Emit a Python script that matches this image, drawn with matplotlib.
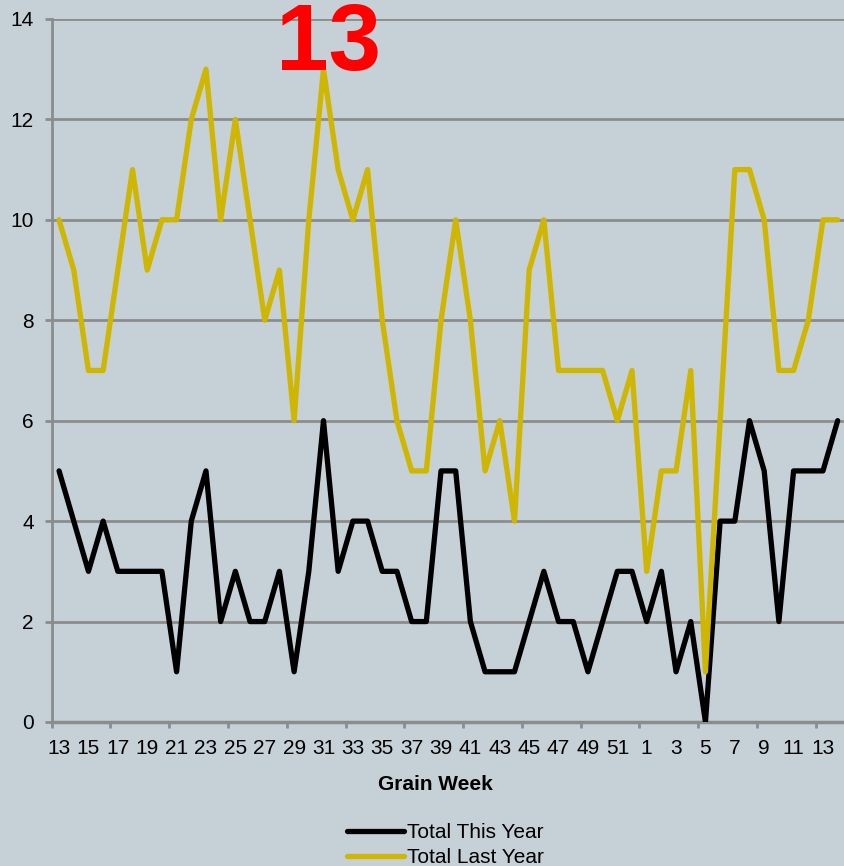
import matplotlib
matplotlib.use("Agg")
import matplotlib.pyplot as plt

# grain weeks 13..52 then 1..14 of the following year
weeks = list(range(13, 53)) + list(range(1, 15))

this_year = [5, 4, 3, 4, 3, 3, 3, 3, 1, 4, 5, 2, 3, 2, 2, 3, 1, 3, 6, 3,
             4, 4, 3, 3, 2, 2, 5, 5, 2, 1, 1, 1, 2, 3, 2, 2, 1, 2, 3, 3,
             2, 3, 1, 2, 0, 4, 4, 6, 5, 2, 5, 5, 5, 6]
last_year = [10, 9, 7, 7, 9, 11, 9, 10, 10, 12, 13, 10, 12, 10, 8, 9, 6, 10, 13, 11,
             10, 11, 8, 6, 5, 5, 8, 10, 8, 5, 6, 4, 9, 10, 7, 7, 7, 7, 6, 7,
             3, 5, 5, 7, 1, 6, 11, 11, 10, 7, 7, 8, 10, 10]

bg = '#C5D0D7'
grid_col = '#8C8C8C'
gold = '#CFB600'

plt.rcParams['font.family'] = ['Liberation Sans', 'DejaVu Sans']

fig = plt.figure(figsize=(8.45, 8.66), dpi=100)
fig.patch.set_facecolor(bg)
ax = fig.add_axes([0.0612, 0.1663, 0.9388, 0.8118])
ax.set_facecolor(bg)

x = list(range(len(weeks)))
ax.plot(x, this_year, color='black', lw=3.8, label='Total This Year', zorder=3,
        solid_capstyle='round')
ax.plot(x, last_year, color=gold, lw=3.8, label='Total Last Year', zorder=4,
        solid_capstyle='round')

ax.set_xlim(-0.5, len(weeks) - 0.5)
ax.set_ylim(0, 14)
ax.set_yticks(range(0, 15, 2))
ax.yaxis.grid(True, color=grid_col, lw=2)
ax.set_axisbelow(True)

# labels every 2nd week, tick marks every 4 categories
ax.set_xticks(x[::2])
ax.set_xticklabels([str(w) for w in weeks[::2]])
ax.set_xticks([i - 0.5 for i in range(0, len(weeks) + 1, 4)], minor=True)
ax.tick_params(axis='x', which='major', length=0, pad=12, labelsize=15)
ax.tick_params(axis='x', which='minor', length=4, width=2, color=grid_col)
ax.tick_params(axis='y', length=5, width=2, color=grid_col, pad=8, labelsize=15)

for s in ['top', 'right']:
    ax.spines[s].set_visible(False)
ax.spines['left'].set_color(grid_col)
ax.spines['left'].set_linewidth(2)
ax.spines['bottom'].set_color(grid_col)
ax.spines['bottom'].set_linewidth(2.5)

fig.text(0.5148, 1 - 784 / 866, 'Grain Week', ha='center', va='center',
         fontsize=15, fontweight='bold')

fig.text(329 / 845, 1 - 70 / 866, '13', ha='center', va='baseline',
         fontsize=68, fontweight='bold', color='red')

fig.legend(loc='center', bbox_to_anchor=(445 / 845, 1 - 845 / 866),
           frameon=False, fontsize=15, handlelength=2.74, handletextpad=0.14,
           labelspacing=0.28, borderpad=0)

fig.savefig('out.png', dpi=100, facecolor=bg)
